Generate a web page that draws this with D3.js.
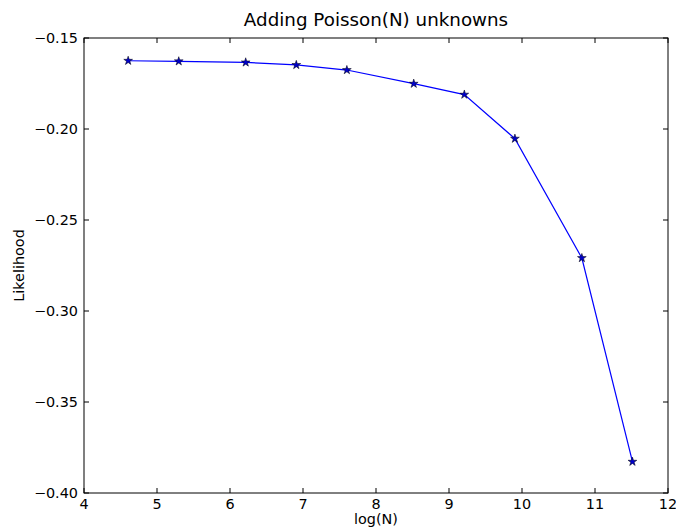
<!DOCTYPE html>
<html><head><meta charset="utf-8">
<script src="https://cdn.jsdelivr.net/npm/d3@7"></script>
<style>body{margin:0;background:#fff}svg{display:block}text{font-family:"DejaVu Sans",sans-serif;fill:#000}</style>
</head><body><svg id="c" width="676" height="529"></svg>
<script>
const xValues = [4.605, 5.298, 6.215, 6.908, 7.601, 8.517, 9.210, 9.903, 10.820, 11.513];
const likelihood = [-0.1625, -0.1628, -0.1634, -0.1648, -0.1676, -0.1751, -0.1811, -0.2053, -0.2709, -0.3828];
const xTicks = [4,5,6,7,8,9,10,11,12];
const yTicks = [-0.40,-0.35,-0.30,-0.25,-0.20,-0.15];
const title = "Adding Poisson(N) unknowns";
const xLabel = "log(N)";
const yLabel = "Likelihood";

const svg = d3.select("#c");
const L=84, R=668, T=38, B=493;
const x = d3.scaleLinear().domain([4,12]).range([L,R]);
const y = d3.scaleLinear().domain([-0.40,-0.15]).range([B,T]);
const fmtY = d => (d<0?"\u2212":"")+Math.abs(d).toFixed(2);
const FS = 14.4;

const g = svg.append("g");
xTicks.forEach(t=>{
  g.append("line").attr("x1",x(t)).attr("x2",x(t)).attr("y1",B).attr("y2",B-5).attr("stroke","#000");
  g.append("line").attr("x1",x(t)).attr("x2",x(t)).attr("y1",T).attr("y2",T+5).attr("stroke","#000");
  g.append("text").attr("x",x(t)).attr("y",B+15.5).attr("text-anchor","middle").attr("font-size",FS).text(t);
});
yTicks.forEach(t=>{
  g.append("line").attr("x1",L).attr("x2",L+5).attr("y1",y(t)).attr("y2",y(t)).attr("stroke","#000");
  g.append("line").attr("x1",R).attr("x2",R-5).attr("y1",y(t)).attr("y2",y(t)).attr("stroke","#000");
  g.append("text").attr("x",L-6).attr("y",y(t)).attr("dy","0.36em").attr("text-anchor","end").attr("font-size",FS).text(fmtY(t));
});
svg.append("rect").attr("x",L).attr("y",T).attr("width",R-L).attr("height",B-T).attr("fill","none").attr("stroke","#000").attr("stroke-width",1);

const data = xValues.map((v,i)=>[v,likelihood[i]]);
svg.append("path").datum(data).attr("fill","none").attr("stroke","#0000ff").attr("stroke-width",1.2)
  .attr("d", d3.line().x(d=>x(d[0])).y(d=>y(d[1])));
const star = d3.symbol().type(d3.symbolStar).size(24);
svg.selectAll(".m").data(data).enter().append("path")
  .attr("transform",d=>`translate(${x(d[0])},${y(d[1])})`)
  .attr("d",star()).attr("fill","#0000cc").attr("stroke","#000").attr("stroke-width",0.5);

svg.append("text").attr("x",(L+R)/2).attr("y",26).attr("text-anchor","middle").attr("font-size",18.3).text(title);
svg.append("text").attr("x",(L+R)/2).attr("y",524).attr("text-anchor","middle").attr("font-size",FS).text(xLabel);
svg.append("text").attr("transform",`translate(24,${(T+B)/2}) rotate(-90)`).attr("text-anchor","middle").attr("font-size",FS).text(yLabel);
</script></body></html>
